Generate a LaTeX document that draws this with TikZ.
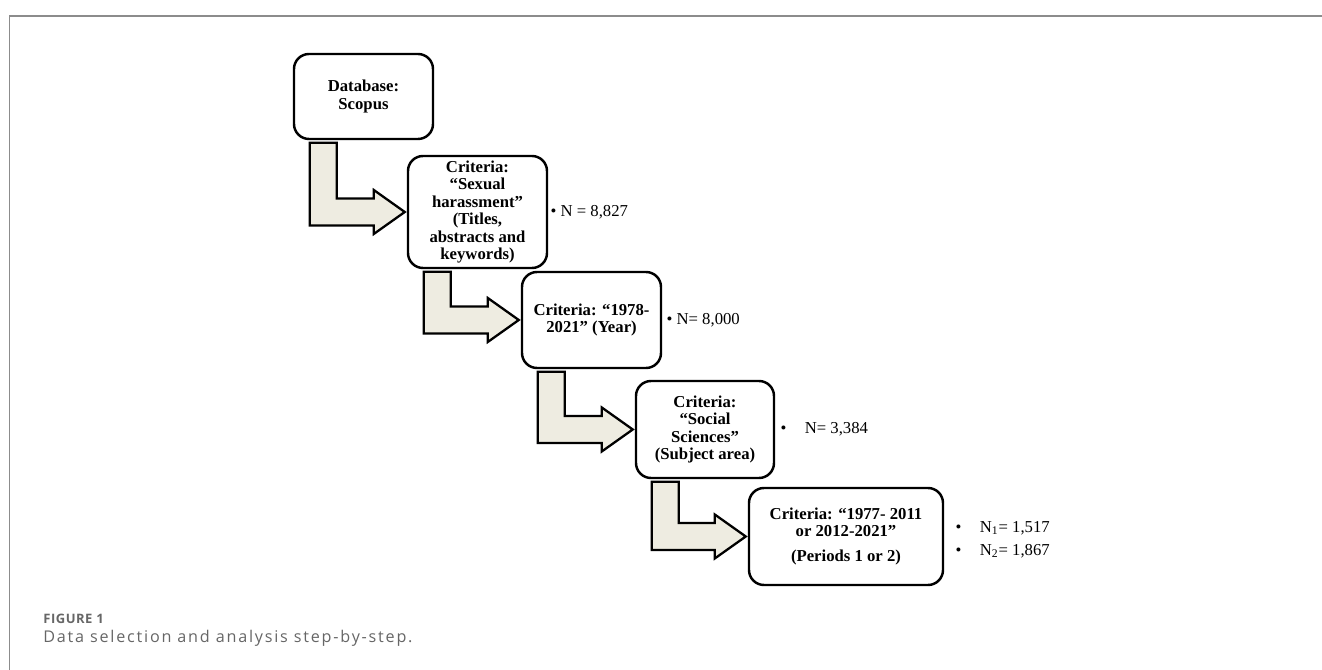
\documentclass[tikz,border=0pt]{standalone}
\usepackage{fontspec}
\setmainfont{Liberation Serif}
\newfontfamily\figfont[LetterSpace=4]{Open Sans}
\newfontfamily\capfont[LetterSpace=11]{Open Sans}
\usetikzlibrary{positioning,calc}

\definecolor{shaftfill}{HTML}{EEECE1}
\definecolor{framegray}{HTML}{8C8C8C}
\definecolor{capgray}{HTML}{666666}

% L-shaped block arrow from the bottom of #1 to the west side of #2
\newcommand{\elbow}[2]{%
  \draw[elbowarrow] ($(#1.south west)+(0.34,-0.05)$) coordinate (#1s)
    -- ++(0.54,0) |- ($(#2.west)+(-0.66,0.27)$) -- ++(0,0.17)
    -- ($(#2.west)+(-0.04,0)$) -- ++(-0.62,-0.44) -- ++(0,0.17)
    -| (#1s) -- cycle;}

\begin{document}
\begin{tikzpicture}[
    stepbox/.style={draw, line width=1.4pt, rounded corners=0.3cm, align=center,
      inner sep=0pt, minimum width=2.78cm, font=\bfseries\fontsize{9.5}{10}\selectfont},
    elbowarrow/.style={draw, fill=shaftfill, line width=1.3pt, line join=miter},
    count/.style={inner sep=0pt, align=left, font=\fontsize{9.5}{10}\selectfont}]

      \useasboundingbox (0,0) rectangle (26.44,13.4);

      % frame
      \draw[framegray, line width=0.9pt] (0.19,0) -- (0.19,13.08) -- (26.44,13.08);

      \node[stepbox, minimum height=1.70cm] at (7.27,11.47) (b1) {Database:\\Scopus};
      \node[stepbox, minimum height=2.24cm] at (9.55,9.16) (b2)
        {Criteria:\\“Sexual\\harassment”\\(Titles,\\abstracts and\\keywords)};
      \node[stepbox, minimum height=1.92cm] at (11.83,7.00) (b3)
        {Criteria: “1978-\\2021” (Year)};
      \node[stepbox, minimum height=1.94cm, minimum width=2.76cm] at (14.10,4.81) (b4)
        {Criteria:\\“Social\\Sciences”\\(Subject area)};
      \node[stepbox, minimum height=1.94cm, minimum width=3.88cm] at (16.92,2.67) (b5)
        {Criteria: “1977- 2011\\or 2012-2021”\\[4pt](Periods 1 or 2)};

      \elbow{b1}{b2}
      \elbow{b2}{b3}
      \elbow{b3}{b4}
      \elbow{b4}{b5}

      \node[count, right = .04 of b2] (n1) {\textbullet\ N = 8,827};
      \node[count, right = .08 of b3] (n2) {\textbullet\ N= 8,000};
      \node[count, right = .10 of b4] (n3) {\textbullet\hspace{1.1em}N= 3,384};
      \node[count, right = .22 of b5, yshift=-0.06cm] (n4)
        {\textbullet\hspace{1.1em}N\textsubscript{1}= 1,517\\[3pt]
         \textbullet\hspace{1.1em}N\textsubscript{2}= 1,867};

      \node[anchor=base west, inner sep=0pt, text=capgray,
        font=\figfont\bfseries\fontsize{7.4}{9}\selectfont] at (0.86,0.92) (fig) {FIGURE 1};
      \node[anchor=base west, inner sep=0pt, text=capgray,
        font=\capfont\fontsize{9.2}{10}\selectfont] at (0.86,0.54) (cap)
        {Data selection and analysis step-by-step.};
    \end{tikzpicture}
\end{document}
